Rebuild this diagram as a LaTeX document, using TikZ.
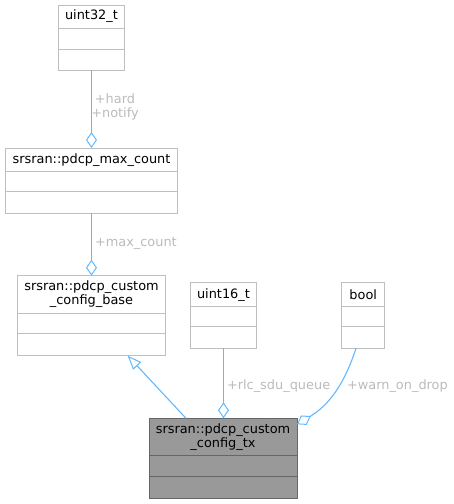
\documentclass[tikz,border=0pt]{standalone}
\usepackage{fontspec}
\setmainfont{DejaVu Sans}
\usetikzlibrary{arrows.meta}
\definecolor{boxline}{HTML}{BFBFBF}
\definecolor{edgeblue}{HTML}{63B8FF}
\definecolor{lblgray}{HTML}{BBBBBB}
\definecolor{txfill}{HTML}{999999}
\definecolor{txline}{HTML}{666666}
\begin{document}
\begin{tikzpicture}[x=1pt,y=-1pt,
  every node/.style={font=\fontsize{12.9}{14}\selectfont, inner sep=0pt, outer sep=0pt},
  umlbox/.style={draw=boxline, line width=1pt, fill=white, rectangle},
  txbox/.style={draw=txline, line width=1pt, fill=txfill, rectangle},
  ttl/.style={align=center, text=black},
  lbl/.style={text=lblgray, align=center},
  conn/.style={draw=edgeblue, line width=1.1pt},
  agg/.style={conn, -{Diamond[open, length=16pt, width=11pt, line width=1pt]}},
  inh/.style={conn, -{Triangle[open, length=14pt, width=11pt, line width=1pt]}}
]
\useasboundingbox (0,0) rectangle (454,504);

% uint32_t
\node[umlbox, minimum width=66pt, minimum height=65pt] (u32) at (91.5,37.5) {};
\node[ttl] (u32t) at ([yshift=-11.5pt]u32.north) {uint32\_t};
\draw[boxline, line width=1pt] ([yshift=-23pt]u32.north west) -- ([yshift=-23pt]u32.north east);
\draw[boxline, line width=1pt] ([yshift=-44pt]u32.north west) -- ([yshift=-44pt]u32.north east);

% pdcp_max_count
\node[umlbox, minimum width=172pt, minimum height=65pt] (maxc) at (91.5,180.5) {};
\node[ttl] (maxct) at ([yshift=-11.8pt]maxc.north) {srsran::pdcp\_max\_count};
\draw[boxline, line width=1pt] ([yshift=-23.7pt]maxc.north west) -- ([yshift=-23.7pt]maxc.north east);
\draw[boxline, line width=1pt] ([yshift=-43.7pt]maxc.north west) -- ([yshift=-43.7pt]maxc.north east);

% pdcp_custom_config_base
\node[umlbox, minimum width=148pt, minimum height=80pt] (base) at (91.5,315.7) {};
\node[ttl] (baset) at ([yshift=-18.8pt]base.north) {srsran::pdcp\_custom\\\_config\_base};
\draw[boxline, line width=1pt] ([yshift=-37.6pt]base.north west) -- ([yshift=-37.6pt]base.north east);
\draw[boxline, line width=1pt] ([yshift=-57.6pt]base.north west) -- ([yshift=-57.6pt]base.north east);

% uint16_t
\node[umlbox, minimum width=66.7pt, minimum height=65.6pt] (u16) at (223.5,315.5) {};
\node[ttl] (u16t) at ([yshift=-12pt]u16.north) {uint16\_t};
\draw[boxline, line width=1pt] ([yshift=-24pt]u16.north west) -- ([yshift=-24pt]u16.north east);
\draw[boxline, line width=1pt] ([yshift=-44pt]u16.north west) -- ([yshift=-44pt]u16.north east);

% bool
\node[umlbox, minimum width=43pt, minimum height=65.6pt] (bool) at (363.2,315.5) {};
\node[ttl] (boolt) at ([yshift=-12pt]bool.north) {bool};
\draw[boxline, line width=1pt] ([yshift=-24pt]bool.north west) -- ([yshift=-24pt]bool.north east);
\draw[boxline, line width=1pt] ([yshift=-44pt]bool.north west) -- ([yshift=-44pt]bool.north east);

% pdcp_custom_config_tx
\node[txbox, minimum width=148pt, minimum height=80pt] (tx) at (223,458.3) {};
\node[ttl] (txt) at ([yshift=-18.7pt]tx.north) {srsran::pdcp\_custom\\\_config\_tx};
\draw[txline, line width=1pt] ([yshift=-37.4pt]tx.north west) -- ([yshift=-37.4pt]tx.north east);
\draw[txline, line width=1pt] ([yshift=-57.7pt]tx.north west) -- ([yshift=-57.7pt]tx.north east);

% connectors
\draw[agg] (u32.south) -- (maxc.north);
\node[lbl] (l1) at (115,107) {+hard\\+notify};

\draw[agg] (maxc.south) -- (base.north);
\node[lbl, anchor=west] (l2) at (95,243.7) {+max\_count};

\draw[agg] (u16.south) -- (u16.south |- tx.north);
\node[lbl, anchor=west] (l3) at (227,386) {+rlc\_sdu\_queue};

\draw[agg] ([xshift=-7.2pt]bool.south) to[out=-108, in=31] ([yshift=-6pt]tx.north east);
\node[lbl, anchor=west] (l4) at (347,386) {+warn\_on\_drop};

\draw[inh] ([xshift=-37pt]tx.north) -- ([xshift=36.2pt]base.south);
\end{tikzpicture}
\end{document}
